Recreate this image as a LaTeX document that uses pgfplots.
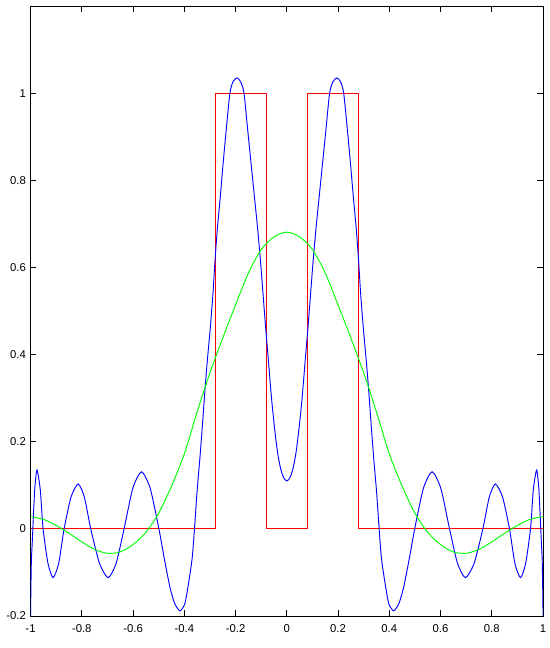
\documentclass[border=0pt]{standalone}
\usepackage{fontspec}
\setmainfont{Liberation Sans}
\usepackage{pgfplots}
\pgfplotsset{compat=1.18}
\usetikzlibrary{calc}
\definecolor{mred}{RGB}{255,0,0}
\definecolor{mblue}{RGB}{0,0,255}
\definecolor{mgreen}{RGB}{0,255,0}

\begin{document}
\begin{tikzpicture}
  \begin{axis}[
      name=ax,
      scale only axis,
      width=384.4pt, height=457.5pt,
      xmin=-1, xmax=1, ymin=-0.2, ymax=1.2,
      xtick={-1,-0.8,-0.6,-0.4,-0.2,0,0.2,0.4,0.6,0.8,1},
      xticklabels={-1,-0.8,-0.6,-0.4,-0.2,0,0.2,0.4,0.6,0.8,1},
      ytick={-0.2,0,0.2,0.4,0.6,0.8,1},
      yticklabels={-0.2,0,0.2,0.4,0.6,0.8,1},
      xtick pos=both, ytick pos=both,
      tick align=inside,
      major tick length=4.2pt,
      tick style={black, line width=0.6pt},
      axis line style={black, line width=0.6pt},
      ticklabel style={font=\fontsize{8.5}{10}\selectfont},
      xticklabel style={yshift=-3pt},
      every axis plot/.append style={line width=0.7pt},
    ]
    % red: target piecewise function
    \addplot[mred] coordinates {
      (-1,0) (-0.28,0) (-0.28,1) (-0.08,1) (-0.08,0)
      (0.08,0) (0.08,1) (0.28,1) (0.28,0) (1,0)};
    % blue: high-order approximation
    \addplot[mblue, smooth, tension=0.4] coordinates {
      (-1.000,-0.200) (-0.997,-0.080) (-0.993,-0.027) (-0.984,0.087)
      (-0.975,0.135) (-0.962,0.090) (-0.951,0.000) (-0.932,-0.079)
      (-0.912,-0.112) (-0.890,-0.079) (-0.869,0.000) (-0.842,0.073)
      (-0.814,0.103) (-0.790,0.073) (-0.765,0.000) (-0.731,-0.079)
      (-0.697,-0.112) (-0.666,-0.079) (-0.635,0.000) (-0.601,0.093)
      (-0.567,0.131) (-0.533,0.093) (-0.499,0.000) (-0.480,-0.062)
      (-0.456,-0.134) (-0.437,-0.172) (-0.417,-0.188) (-0.398,-0.172)
      (-0.384,-0.127) (-0.369,-0.066) (-0.359,0.011) (-0.350,0.087)
      (-0.339,0.163) (-0.329,0.240) (-0.320,0.314) (-0.311,0.380)
      (-0.298,0.465) (-0.288,0.541) (-0.280,0.617) (-0.271,0.689)
      (-0.259,0.766) (-0.248,0.842) (-0.236,0.918) (-0.222,1.000)
      (-0.210,1.026) (-0.195,1.035) (-0.180,1.026) (-0.167,1.000)
      (-0.153,0.918) (-0.140,0.842) (-0.127,0.766) (-0.114,0.690)
      (-0.103,0.617) (-0.093,0.541) (-0.083,0.465) (-0.072,0.388)
      (-0.060,0.302) (-0.048,0.232) (-0.036,0.175) (-0.024,0.138)
      (-0.012,0.117) (0.000,0.110)
      (0.012,0.117) (0.024,0.138) (0.036,0.175) (0.048,0.232)
      (0.060,0.302) (0.072,0.388) (0.083,0.465) (0.093,0.541)
      (0.103,0.617) (0.114,0.690) (0.127,0.766) (0.140,0.842)
      (0.153,0.918) (0.167,1.000) (0.180,1.026) (0.195,1.035)
      (0.210,1.026) (0.222,1.000) (0.236,0.918) (0.248,0.842)
      (0.259,0.766) (0.271,0.689) (0.280,0.617) (0.288,0.541)
      (0.298,0.465) (0.311,0.380) (0.320,0.314) (0.329,0.240)
      (0.339,0.163) (0.350,0.087) (0.359,0.011) (0.369,-0.066)
      (0.384,-0.127) (0.398,-0.172) (0.417,-0.188) (0.437,-0.172)
      (0.456,-0.134) (0.480,-0.062) (0.499,0.000) (0.533,0.093)
      (0.567,0.131) (0.601,0.093) (0.635,0.000) (0.666,-0.079)
      (0.697,-0.112) (0.731,-0.079) (0.765,0.000) (0.790,0.073)
      (0.814,0.103) (0.842,0.073) (0.869,0.000) (0.890,-0.079)
      (0.912,-0.112) (0.932,-0.079) (0.951,0.000) (0.962,0.090)
      (0.975,0.135) (0.984,0.087) (0.993,-0.027) (0.997,-0.080)
      (1.000,-0.200)};
    % green: low-order approximation
    \addplot[mgreen, smooth] coordinates {
      (-1,0.028) (-0.95,0.022) (-0.9,0.008) (-0.85,-0.010) (-0.8,-0.030)
      (-0.75,-0.047) (-0.7,-0.056) (-0.65,-0.053) (-0.6,-0.036)
      (-0.55,-0.008) (-0.5,0.036) (-0.45,0.098) (-0.4,0.172)
      (-0.35,0.268) (-0.3,0.358) (-0.25,0.438) (-0.2,0.514)
      (-0.15,0.587) (-0.1,0.641) (-0.05,0.670) (0,0.681)
      (0.05,0.670) (0.1,0.641) (0.15,0.587) (0.2,0.514)
      (0.25,0.438) (0.3,0.358) (0.35,0.268) (0.4,0.172)
      (0.45,0.098) (0.5,0.036) (0.55,-0.008) (0.6,-0.036)
      (0.65,-0.053) (0.7,-0.056) (0.75,-0.047) (0.8,-0.030)
      (0.85,-0.010) (0.9,0.008) (0.95,0.022) (1,0.028)};
  \end{axis}
  \pgfresetboundingbox
  \path[use as bounding box] ($(ax.south west)+(-22.9pt,-24pt)$)
    rectangle ($(ax.north east)+(4.5pt,4.5pt)$);
\end{tikzpicture}
\end{document}
